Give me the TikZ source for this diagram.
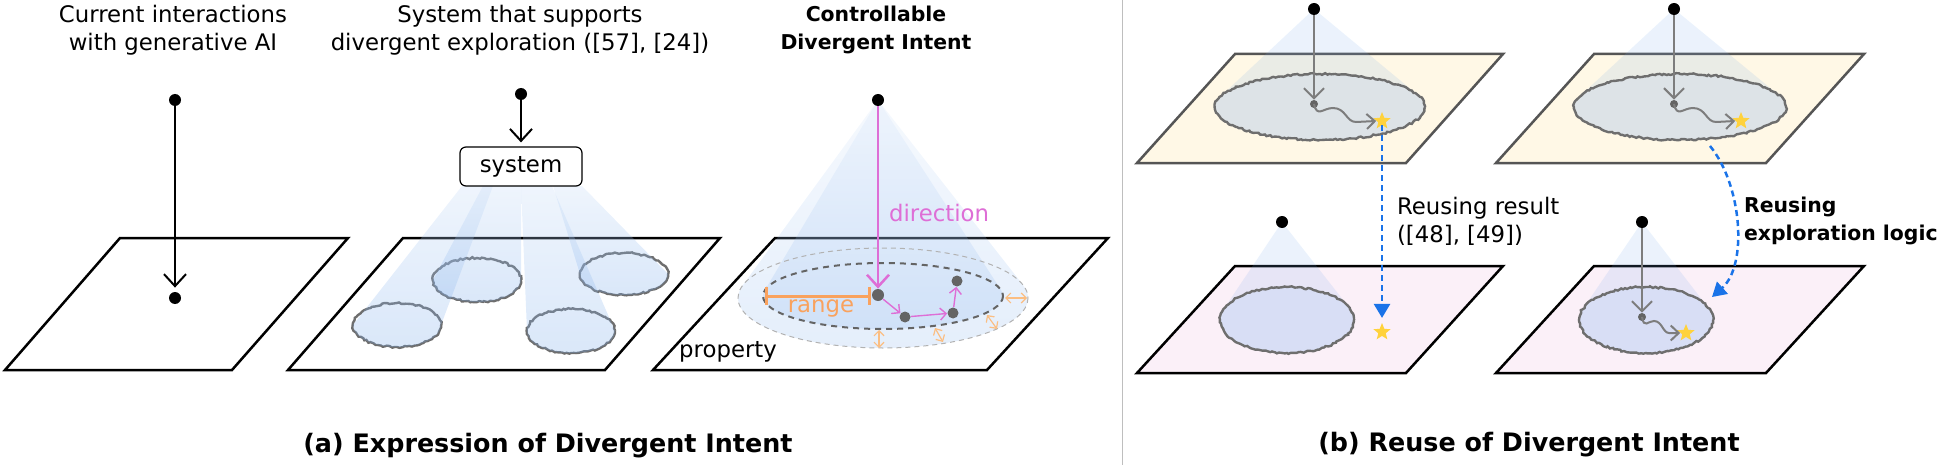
\documentclass[tikz,border=0pt]{standalone}
\usepackage{fontspec}
\setmainfont{DejaVu Sans}
\usetikzlibrary{arrows.meta,shapes.geometric,decorations.pathmorphing}

\definecolor{beam}{RGB}{120,170,235}
\definecolor{rough}{RGB}{110,110,110}
\definecolor{pinkA}{RGB}{222,110,214}
\definecolor{orangeA}{RGB}{249,162,94}
\definecolor{orangeB}{RGB}{251,190,130}
\definecolor{yellowP}{RGB}{255,248,230}
\definecolor{pinkP}{RGB}{251,240,248}
\definecolor{planeGray}{RGB}{85,85,85}
\definecolor{ellGray}{RGB}{221,227,231}
\definecolor{ellLav}{RGB}{216,222,245}
\definecolor{starY}{RGB}{255,210,60}
\definecolor{blueD}{RGB}{26,115,232}
\definecolor{arrGray}{RGB}{125,125,125}
\definecolor{nodeGray}{RGB}{100,100,100}
\definecolor{dividerC}{RGB}{190,190,190}

\newcommand\conefill[7]{%
  \pgfmathsetmacro\cang{asin(#7/(#3-#5))}%
  \pgfmathsetmacro\cangL{180-\cang}%
  \path[#1] (#2,#3) -- ({#4+#6*cos(\cangL)},{#5+#7*sin(\cangL)}) arc[start angle=\cangL, end angle=\cang, x radius=#6, y radius=#7] -- cycle;%
}
% beam: top-left x, top-right x, top y, cx, cy, a, b
\newcommand\beampath[7]{%
  \path[beamfill] (#1,#3) -- ({#4-#6},#5) arc[start angle=180, end angle=0, x radius=#6, y radius=#7] -- (#2,#3) -- cycle;%
}

\begin{document}
\begin{tikzpicture}[x=0.5pt,y=-0.5pt,
  font=\fontsize{11.4pt}{14pt}\selectfont,
  plane/.style={draw=black, line width=1.25pt, line join=miter},
  dot/.style={circle, fill=black, inner sep=0pt, minimum size=6pt},
  gnode/.style={circle, fill=nodeGray, inner sep=0pt, minimum size=5.5pt},
  snode/.style={circle, fill=nodeGray, inner sep=0pt, minimum size=4pt},
  staricon/.style={star, star points=5, star point ratio=2.3, fill=starY, inner sep=0pt, minimum size=9pt},
  roughE/.style={draw=rough, line width=1.2pt, decorate, decoration={random steps, segment length=1.2pt, amplitude=0.45pt}},
  barb/.style={-{Straight Barb[length=6pt,width=11pt]}},
  gbarb/.style={draw=arrGray, line width=1pt, -{Straight Barb[length=5pt,width=10pt]}},
  wavy/.style={draw=arrGray, line width=1pt, -{Straight Barb[length=4pt,width=7.5pt]}},
  beamfill/.style={top color=beam!45, bottom color=beam, fill opacity=0.27},
  conef/.style={fill=beam, fill opacity=0.15},
  conesh/.style={top color=beam!35, bottom color=beam, fill opacity=0.2},
  conesh2/.style={top color=beam!35, bottom color=beam, fill opacity=0.2},
  bluedash/.style={draw=blueD, line width=1.25pt, dash pattern=on 3pt off 2pt, -{Triangle[length=7pt,width=8pt]}},
  dbl/.style={draw=orangeB, line width=0.6pt, {Straight Barb[length=2.5pt,width=5pt]}-{Straight Barb[length=2.5pt,width=5pt]}},
  pinkstep/.style={draw=pinkA, line width=0.7pt, -{Straight Barb[length=3pt,width=6pt]}},
  captxt/.style={font=\fontsize{12.7pt}{15pt}\selectfont\bfseries},
  boldlbl/.style={font=\fontsize{10.2pt}{14pt}\selectfont\bfseries},
]
\pgfmathsetseed{7}
\useasboundingbox (0,0) rectangle (1938,465);

% ---------------- Panel (a), part 1
\node[align=center] (h1) at (173,30) {Current interactions\\with generative AI};
\draw[plane] (120,238) -- (348,238) -- (232,370) -- (5,370) -- cycle;
\node[dot] (a1) at (175,100) {};
\node[dot] (a2) at (175,298) {};
\draw[barb, line width=1pt, shorten >=2pt] (a1) -- (a2);

% ---------------- Panel (a), part 2
\node[align=center] (h2) at (520,30) {System that supports\\divergent exploration ([57], [24])};
\draw[plane] (403,238) -- (720,238) -- (605,370) -- (288,370) -- cycle;
\path[roughE, fill=white] (397,325) ellipse [x radius=44, y radius=22];
\path[roughE, fill=white] (477,280) ellipse [x radius=44, y radius=22];
\path[roughE, fill=white] (571,331) ellipse [x radius=44, y radius=22];
\path[roughE, fill=white] (624,274) ellipse [x radius=44, y radius=21];
\beampath{462}{493}{186}{397}{325}{44}{22}
\beampath{483}{521}{186}{477}{280}{44}{22}
\beampath{521}{552}{186}{571}{331}{44}{22}
\beampath{553}{582}{186}{624}{274}{44}{21}
\node[draw, rounded corners=3pt, line width=0.6pt, fill=white, minimum width=61pt, minimum height=19.5pt, inner sep=0pt] (sys) at (521,166.5) {system};
\node[dot] (b1) at (521,94) {};
\draw[barb, line width=1pt, shorten >=2pt] (b1) -- (sys.north);

% ---------------- Panel (a), part 3
\node[align=center, boldlbl] (h3) at (876,30) {Controllable\\Divergent Intent};
\draw[plane] (775,238) -- (1108,238) -- (987,370) -- (653,370) -- cycle;
\conefill{conesh}{878}{100}{883}{298}{145}{50}
\conefill{conesh2}{878}{100}{883}{296}{120}{33}
\draw[draw=gray!60, line width=0.5pt, dash pattern=on 2.5pt off 2pt] (883,298) ellipse [x radius=145, y radius=50];
\draw[draw=nodeGray, line width=1pt, dash pattern=on 3pt off 2.5pt] (883,296) ellipse [x radius=120, y radius=33];
\node[dot] (c0) at (878,100) {};
\node[gnode, minimum size=6pt] (n1) at (878,295) {};
\node[gnode] (n2) at (905,317) {};
\node[gnode] (n3) at (953,313) {};
\node[gnode] (n4) at (957,281) {};
\draw[barb, draw=pinkA, line width=1.25pt] (c0) -- (n1);
\draw[pinkstep] (n1) -- (n2);
\draw[pinkstep] (n2) -- (n3);
\draw[pinkstep] (n3) -- (n4);
\node[anchor=west, text=pinkA] (dirl) at (882,213) {direction};
\coordinate (r0) at (765,296);
\coordinate (r1) at (871,296);
\draw[draw=orangeA, line width=1.5pt, {Bar[width=9pt]}-{Bar[width=9pt]}] (r0) -- (r1);
\node[text=orangeA] (rangel) at (821,308) {range};
\coordinate (o1a) at (1005,298); \coordinate (o1b) at (1027,298);
\coordinate (o2a) at (987,315);  \coordinate (o2b) at (997,329);
\coordinate (o3a) at (935,328);  \coordinate (o3b) at (943,342);
\coordinate (o4a) at (879,330);  \coordinate (o4b) at (879,348);
\draw[dbl] (o1a) -- (o1b);
\draw[dbl] (o2a) -- (o2b);
\draw[dbl] (o3a) -- (o3b);
\draw[dbl] (o4a) -- (o4b);
\node (propl) at (728,352) {property};

\node[captxt] (capa) at (548,446) {(a) Expression of Divergent Intent};

% divider
\draw[draw=dividerC, line width=0.5pt] (1122,0) -- (1122,465);

% ---------------- Panel (b)
% top-left
\draw[fill=yellowP, draw=planeGray, line width=1.25pt] (1235,54) -- (1503,54) -- (1406,163) -- (1137,163) -- cycle;
\conefill{conef}{1314}{9}{1320}{107}{105}{33}
\path[roughE, fill=ellGray] (1320,107) ellipse [x radius=105, y radius=33];
\node[dot] (p1) at (1314,9) {};
\node[snode] (g1) at (1314,104) {};
\node[staricon] (s1) at (1382,121) {};
\draw[gbarb] (p1) -- (g1);
\draw[wavy] (g1.center) .. controls +(3,14) and +(-10,0) .. ++(19,4) .. controls +(13,0) and +(-10,0) .. ++(23,14) -- (s1.west);

% bottom-left
\draw[fill=pinkP, draw=black, line width=1.25pt] (1235,266) -- (1503,266) -- (1406,373) -- (1137,373) -- cycle;
\conefill{conef}{1282}{222}{1287}{320}{67}{33}
\path[roughE, fill=ellLav] (1287,320) ellipse [x radius=67, y radius=33];
\node[dot] (p2) at (1282,222) {};
\node[staricon] (s2) at (1382,332) {};
\draw[bluedash, shorten >=2pt] (s1.south) -- (s2.north);
\node[anchor=west, align=left] (rr) at (1390,221) {Reusing result\\([48], [49])};

% top-right
\draw[fill=yellowP, draw=planeGray, line width=1.25pt] (1594,54) -- (1864,54) -- (1766,163) -- (1496,163) -- cycle;
\conefill{conef}{1674}{9}{1680}{107}{106}{33}
\path[roughE, fill=ellGray] (1680,107) ellipse [x radius=106, y radius=33];
\node[dot] (p3) at (1674,9) {};
\node[snode] (g3) at (1674,104) {};
\node[staricon] (s3) at (1741,121) {};
\draw[gbarb] (p3) -- (g3);
\draw[wavy] (g3.center) .. controls +(3,14) and +(-10,0) .. ++(19,4) .. controls +(13,0) and +(-10,0) .. ++(23,14) -- (s3.west);

% bottom-right
\draw[fill=pinkP, draw=black, line width=1.25pt] (1594,266) -- (1864,266) -- (1766,373) -- (1496,373) -- cycle;
\conefill{conef}{1642}{222}{1646}{320}{67}{33}
\path[roughE, fill=ellLav] (1646,320) ellipse [x radius=67, y radius=33];
\node[dot] (p4) at (1642,222) {};
\node[snode] (g4) at (1642,317) {};
\node[staricon] (s4) at (1686,333) {};
\draw[gbarb] (p4) -- (g4);
\draw[wavy] (g4.center) .. controls +(2,12) and +(-6,0) .. ++(12,4) .. controls +(8,0) and +(-6,0) .. ++(15,12) -- (s4.west);

\coordinate (cs) at (1710,146);
\coordinate (ce) at (1712,297);
\draw[bluedash] (cs) .. controls (1742,185) and (1748,265) .. (ce);
\node[anchor=west, align=left, boldlbl] (rl) at (1737,221) {Reusing\\exploration logic};

\node[captxt] (capb) at (1529,445) {(b) Reuse of Divergent Intent};
\end{tikzpicture}
\end{document}
